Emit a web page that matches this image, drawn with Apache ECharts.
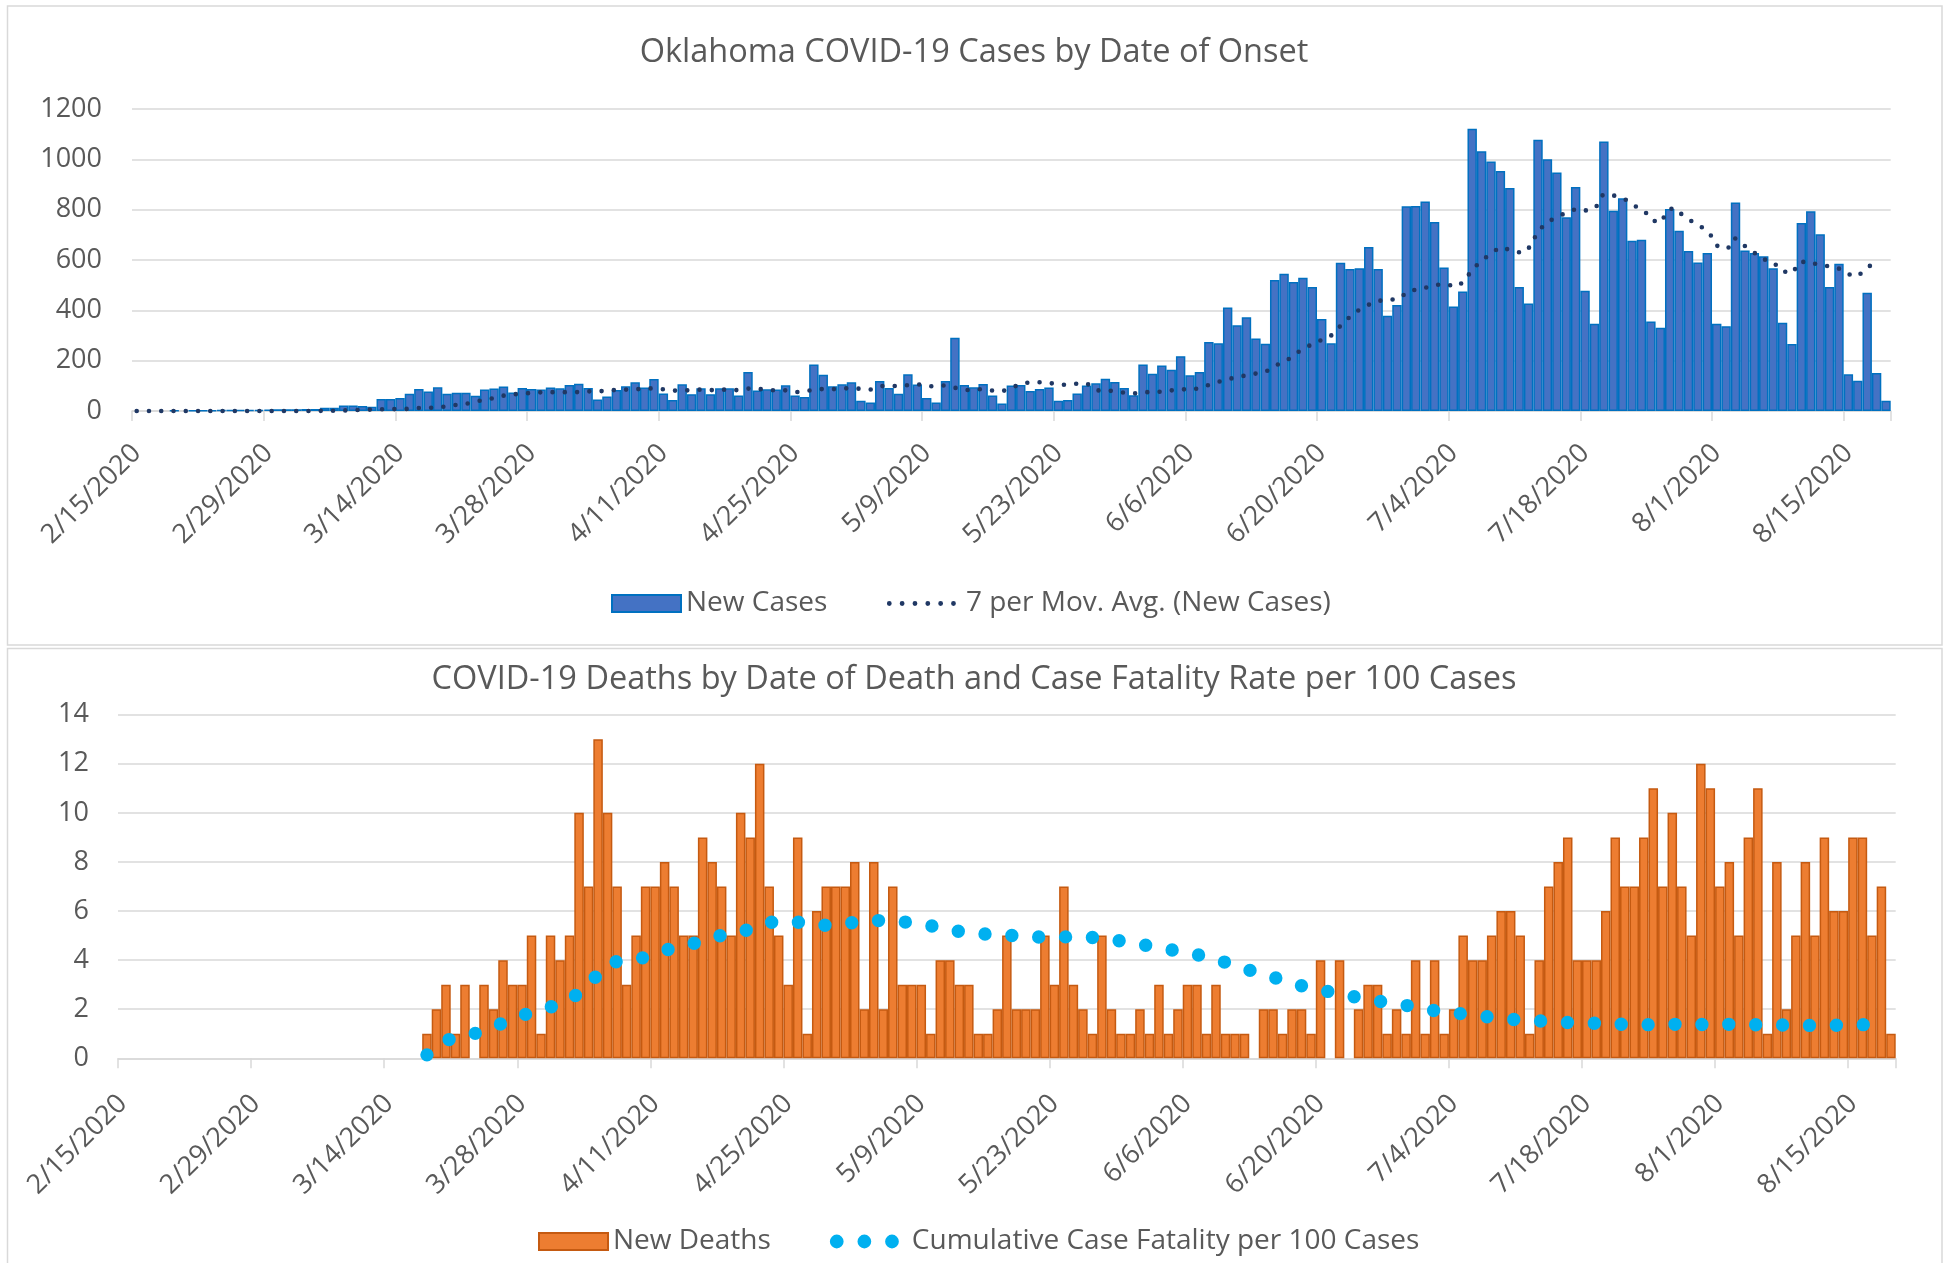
<!DOCTYPE html>
<html><head><meta charset="utf-8">
<script src="https://cdn.jsdelivr.net/npm/echarts@6/dist/echarts.min.js"></script>
<style>html,body{margin:0;padding:0;background:#fff}#c{width:1948px;height:1263px}</style>
</head><body><div id="c"></div>
<script>
// ---- categories: one per day, 2/15/2020 .. 8/19/2020 ----
const dayCount = 187;
const dates = [];
for (let i = 0; i < dayCount; i++) {
  const d = new Date(2020, 1, 15 + i);
  dates.push((d.getMonth() + 1) + '/' + d.getDate() + '/' + d.getFullYear());
}
const tickLabels = ['2/15/2020','2/29/2020','3/14/2020','3/28/2020','4/11/2020','4/25/2020','5/9/2020',
  '5/23/2020','6/6/2020','6/20/2020','7/4/2020','7/18/2020','8/1/2020','8/15/2020'];

// ---- Oklahoma new cases by date of onset ----
const newCases = [
  0,0,0,0,1,0,1,1,2,3,
  3,3,4,4,5,7,7,7,8,8,
  13,13,22,22,20,17,48,48,52,69,
  87,77,94,69,73,73,61,85,89,97,
  74,91,87,85,93,90,103,108,91,46,
  58,83,98,114,93,127,70,44,106,67,
  90,67,90,90,62,155,81,86,85,102,
  62,56,185,144,98,106,114,41,34,119,
  91,69,146,105,52,34,119,291,103,94,
  107,62,30,101,103,79,87,93,41,44,
  70,101,110,128,115,91,63,185,148,181,
  164,218,142,155,274,269,411,341,373,288,
  267,521,545,513,529,493,366,269,589,564,
  567,652,564,378,421,814,815,832,751,570,
  415,475,1122,1032,991,954,886,493,427,1078,
  1000,948,770,890,478,347,1071,796,845,676,
  680,356,331,803,716,636,590,628,347,337,
  828,638,628,615,567,351,266,747,794,702,
  493,585,146,120,470,151,41
];

// ---- 7 per moving average trendline: [day position, value] ----
const movAvgPts = [
  [0.5,0],[18.6,0],[21.4,1],[24,4],[26.6,7],[29.1,8],[30.5,12],[31.8,13],[33.1,17],[34.4,24],
  [35.7,30],[37,41],[38.2,49],[39.5,61],[40.8,67],[42.1,71],[43.4,74],[44.7,75],[46,75],[47.3,75],
  [48.6,78],[49.9,79],[51.2,83],[52.5,85],[53.8,87],[55.1,90],[56.5,86],[57.7,81],[59,82],[60.4,85],
  [61.6,83],[62.9,85],[64.3,83],[65.5,89],[66.8,87],[68.2,82],[69.5,82],[70.8,75],[72.1,82],[73.3,87],
  [74.7,87],[75.9,90],[77.2,89],[78.5,85],[79.7,99],[81,99],[82.3,102],[83.6,106],[84.9,98],[86.2,102],
  [87.4,93],[88.7,83],[90,87],[91.3,82],[92.6,79],[93.8,97],[95,112],[96.3,115],[97.6,111],[98.9,104],
  [100.2,108],[101.5,110],[102.6,82],[103.9,81],[105.1,75],[106.4,69],[107.7,75],[109,75],[110.3,81],[111.6,86],
  [112.9,86],[114.2,100],[115.4,115],[116.7,128],[118,138],[119.2,147],[120.5,155],[121.6,181],[122.8,201],[123.8,230],
  [124.9,254],[126,276],[127.3,292],[128.2,327],[129.1,361],[130.1,393],[131.2,417],[132.4,438],[133.7,440],[134.8,449],
  [135.8,479],[137.1,484],[138.3,499],[139.6,505],[140.8,493],[141.8,519],[142.4,560],[143.4,593],[144.4,624],[145.5,651],
  [146.7,638],[147.9,627],[148.8,658],[149.3,702],[150.1,738],[151.2,766],[152.4,786],[153.6,804],[154.9,795],[155.8,816],
  [156.4,860],[157.4,858],[158.7,843],[159.7,816],[160.8,796],[161.6,758],[162.6,749],[163.2,794],[163.9,808],[164.9,778],
  [166,750],[167.1,726],[168,693],[168.6,654],[169.7,646],[170.4,688],[171.2,663],[172.3,635],[173.3,605],[174.5,592],
  [175.4,556],[176.6,548],[177.2,590],[178.2,595],[179.4,579],[180.7,575],[181.9,561],[183,533],[184,549],[184.8,577]
];

// ---- new deaths by date of death ----
const newDeaths = [
  0,0,0,0,0,0,0,0,0,0,
  0,0,0,0,0,0,0,0,0,0,
  0,0,0,0,0,0,0,0,0,0,
  0,0,1,2,3,1,3,0,3,2,
  4,3,3,5,1,5,4,5,10,7,
  13,10,7,3,5,7,7,8,7,5,
  5,9,8,7,5,10,9,12,7,5,
  3,9,1,6,7,7,7,8,2,8,
  2,7,3,3,3,1,4,4,3,3,
  1,1,2,5,2,2,2,5,3,7,
  3,2,1,5,2,1,1,2,1,3,
  1,2,3,3,1,3,1,1,1,0,
  2,2,1,2,2,1,4,0,4,0,
  2,3,3,1,2,1,4,1,4,1,
  2,5,4,4,5,6,6,5,1,4,
  7,8,9,4,4,4,6,9,7,7,
  9,11,7,10,7,5,12,11,7,8,
  5,9,11,1,8,2,5,8,5,9,
  6,6,9,9,5,7,1
];

// ---- cumulative case fatality per 100 cases: [day position, value] ----
const cfrPts = [
  [32.5,0.14],[34.8,0.76],[37.4,0.99],[40.0,1.36],[42.6,1.76],[45.2,2.04],[47.8,2.44],[49.9,3.19],[51.9,3.92],[54.6,4.01],
  [57.3,4.39],[60.0,4.61],[62.7,4.95],[65.5,5.13],[68.1,5.53],[70.9,5.59],[73.6,5.40],[76.4,5.48],[79.1,5.62],[81.9,5.59],
  [84.7,5.47],[87.4,5.23],[90.2,5.08],[93.0,5.04],[95.8,4.94],[98.7,4.94],[101.5,4.96],[104.3,4.85],[107.1,4.68],[109.9,4.48],
  [112.7,4.29],[115.4,4.06],[118.1,3.68],[120.8,3.41],[123.5,3.04],[126.3,2.80],[129.0,2.59],[131.8,2.36],[134.6,2.23],[137.4,2.00],
  [140.2,1.86],[143.0,1.75],[145.8,1.60],[148.6,1.55],[151.5,1.47],[154.3,1.44],[157.1,1.40],[159.9,1.36],[162.8,1.39],[165.6,1.37],
  [168.5,1.39],[171.3,1.37],[174.1,1.37],[176.9,1.34],[179.8,1.34],[182.6,1.36],[185.4,1.39]
];

const FONT = 'Open Sans';
const TXT = '#595959';
const GRIDC = '#d9d9d9';
const CASE_BLUE = '#4472C4', CASE_EDGE = '#0070C0', MA_NAVY = '#203864';
const DEATH_ORANGE = '#ED7D31', DEATH_EDGE = '#C55A11', CFR_CYAN = '#00B0F0';

// legend icons: dotted-line samples
function dotsPath(n, r, step) {
  let p = 'path://';
  for (let i = 0; i < n; i++) {
    const x = i * step;
    p += 'M' + x + ',' + r + 'a' + r + ',' + r + ' 0 1,0 ' + (2 * r) + ',0a' + r + ',' + r + ' 0 1,0 ' + (-2 * r) + ',0Z';
  }
  return p;
}

// zero-height days are drawn as empty slots
const blankZero = v => (v === 0 ? null : v);

function catAxis(gi, margin) {
  return {
    type: 'category', gridIndex: gi, data: dates, boundaryGap: true,
    axisLine: { lineStyle: { color: GRIDC, width: 1.5 } },
    axisTick: { show: true, interval: 13, length: 10, lineStyle: { color: GRIDC, width: 1.5 } },
    axisLabel: { interval: 13, rotate: 45, margin: margin, fontSize: 27, color: TXT, fontFamily: FONT,
      formatter: v => (tickLabels.indexOf(v) >= 0 ? v : '') },
    splitLine: { show: false }
  };
}
function posAxis(gi) {
  return { type: 'value', gridIndex: gi, min: 0, max: dayCount, show: false, splitLine: { show: false } };
}
function valAxis(gi, max, interval, margin) {
  return {
    type: 'value', gridIndex: gi, min: 0, max: max, interval: interval,
    axisLine: { show: false }, axisTick: { show: false },
    axisLabel: { fontSize: 27, color: TXT, fontFamily: FONT, margin: margin, formatter: v => String(v) },
    splitLine: { lineStyle: { color: GRIDC, width: 1.5 } }
  };
}

const legendText = { fontSize: 28, color: TXT, fontFamily: FONT, lineHeight: 32 };

const chart = echarts.init(document.getElementById('c'), null, { renderer: 'canvas' });
chart.setOption({
  backgroundColor: '#ffffff',
  animation: false,
  textStyle: { fontFamily: FONT },
  graphic: [
    { type: 'rect', shape: { x: 7.5, y: 6, width: 1934.5, height: 639 }, style: { fill: 'none', stroke: GRIDC, lineWidth: 1.5 }, z: -1 },
    { type: 'rect', shape: { x: 7.5, y: 648.5, width: 1934.5, height: 640 }, style: { fill: 'none', stroke: GRIDC, lineWidth: 1.5 }, z: -1 }
  ],
  title: [
    { text: 'Oklahoma COVID-19 Cases by Date of Onset', left: 'center', top: 33, padding: 0,
      textStyle: { fontSize: 32.5, fontWeight: 'normal', color: TXT, fontFamily: FONT, lineHeight: 40 } },
    { text: 'COVID-19 Deaths by Date of Death and Case Fatality Rate per 100 Cases', left: 'center', top: 660, padding: 0,
      textStyle: { fontSize: 32.5, fontWeight: 'normal', color: TXT, fontFamily: FONT, lineHeight: 40 } }
  ],
  legend: [
    { left: 611, top: 587.5, padding: 0, itemWidth: 69, itemHeight: 17, itemGap: 59.5,
      textStyle: legendText,
      data: [
        { name: 'New Cases', icon: 'rect' },
        { name: '7 per Mov. Avg. (New Cases)', icon: dotsPath(6, 2.3, 12.27),
          itemStyle: { color: MA_NAVY, borderWidth: 0 }, textStyle: { padding: [0, 0, 0, 5] } }
      ] },
    { left: 538, top: 1225.5, padding: 0, itemWidth: 69, itemHeight: 17, itemGap: 59,
      textStyle: legendText,
      data: [
        { name: 'New Deaths', icon: 'rect' },
        { name: 'Cumulative Case Fatality per 100 Cases', icon: dotsPath(3, 6.7, 26.9),
          itemStyle: { color: CFR_CYAN, borderWidth: 0 }, textStyle: { padding: [0, 0, 0, 8] } }
      ] }
  ],
  grid: [
    { left: 132, right: 57.3, top: 109, bottom: 852, containLabel: false },
    { left: 118, right: 52.3, top: 714.7, bottom: 204.7, containLabel: false }
  ],
  xAxis: [catAxis(0, 38), posAxis(0), catAxis(1, 41), posAxis(1)],
  yAxis: [valAxis(0, 1200, 200, 30), valAxis(1, 14, 2, 29)],
  series: [
    { name: 'New Cases', type: 'bar', xAxisIndex: 0, yAxisIndex: 0, data: newCases.map(blankZero),
      barCategoryGap: '0%', itemStyle: { color: CASE_BLUE, borderColor: CASE_EDGE, borderWidth: 1.5 } },
    { name: '7 per Mov. Avg. (New Cases)', type: 'line', xAxisIndex: 1, yAxisIndex: 0, data: movAvgPts,
      symbol: 'none', showSymbol: false, clip: false, z: 5,
      itemStyle: { color: MA_NAVY },
      lineStyle: { color: MA_NAVY, width: 4.6, type: [0, 12.27], cap: 'round', join: 'round' } },
    { name: 'New Deaths', type: 'bar', xAxisIndex: 2, yAxisIndex: 1, data: newDeaths.map(blankZero),
      barCategoryGap: '0%', itemStyle: { color: DEATH_ORANGE, borderColor: DEATH_EDGE, borderWidth: 1.5 } },
    { name: 'Cumulative Case Fatality per 100 Cases', type: 'line', xAxisIndex: 3, yAxisIndex: 1, data: cfrPts,
      symbol: 'none', showSymbol: false, clip: false, z: 5,
      itemStyle: { color: CFR_CYAN },
      lineStyle: { color: CFR_CYAN, width: 13.4, type: [0, 26.9], cap: 'round', join: 'round' } }
  ]
});
</script>
</body></html>
